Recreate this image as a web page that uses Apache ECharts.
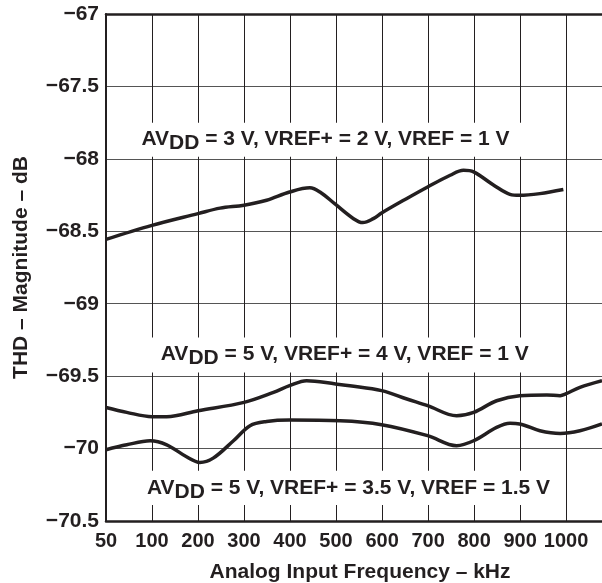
<!DOCTYPE html>
<html><head><meta charset="utf-8">
<script src="https://cdn.jsdelivr.net/npm/echarts@6/dist/echarts.min.js"></script>
<style>html,body{margin:0;padding:0;background:#fff}#c{width:602px;height:583px}</style>
</head><body><div id="c"></div>
<script>
// ---- data ----
const tickLabels = ['50','100','200','300','400','500','600','700','800','900','1000'];

const avdd3Freq = [50, 100, 200, 248, 300, 349, 399, 443, 465, 499, 538, 558, 581, 599, 653, 699, 748, 777, 799, 842, 878, 899, 943, 994];
const avdd3Thd  = [-68.556, -68.459, -68.378, -68.34, -68.32, -68.286, -68.229, -68.20, -68.229, -68.315, -68.413, -68.44, -68.413, -68.374, -68.275, -68.194, -68.113, -68.079, -68.09, -68.18, -68.245, -68.252, -68.24, -68.212];

const avdd5v4Freq = [50, 72.5, 100, 132, 200, 300, 364, 399, 436, 499, 530, 599, 654, 699, 762, 799, 849, 899, 958, 987, 999, 1030, 1078];
const avdd5v4Thd  = [-69.716, -69.75, -69.78, -69.78, -69.739, -69.681, -69.612, -69.566, -69.531, -69.554, -69.566, -69.60, -69.658, -69.704, -69.773, -69.75, -69.67, -69.635, -69.63, -69.635, -69.623, -69.577, -69.531];

const avdd5v35Freq = [50, 72.5, 98, 132, 175, 204, 233, 277, 313, 349, 399, 509, 599, 699, 762, 799, 849, 878, 899, 943, 987, 1030, 1078];
const avdd5v35Thd  = [-70.008, -69.974, -69.946, -69.974, -70.057, -70.096, -70.066, -69.946, -69.842, -69.813, -69.803, -69.808, -69.835, -69.911, -69.98, -69.946, -69.854, -69.826, -69.83, -69.877, -69.896, -69.877, -69.83];

const annoText = [
  ['AV', 'DD', ' = 3 V, VREF+ = 2 V, VREF = 1 V'],
  ['AV', 'DD', ' = 5 V, VREF+ = 4 V, VREF = 1 V'],
  ['AV', 'DD', ' = 5 V, VREF+ = 3.5 V, VREF = 1.5 V']
];

// ---- layout (not data) ----
const annoAnchor = [[477, -67.867], [519, -69.354], [527, -70.276]]; // text centre (kHz, dB of text middle)
const bands = [[-67.75, -67.985], [-69.234, -69.474], [-70.153, -70.389]];
const X_MAX = 10.78;

const FONT = '"Liberation Sans", Arial, Helvetica, sans-serif';
const INK = '#231f20';
function pos(f) { return f < 100 ? (f - 50) / 50 : f / 100; }
function pairs(fs, vs) { return fs.map((f, i) => [pos(f), vs[i]]); }

const chart = echarts.init(document.getElementById('c'), null, {renderer: 'canvas'});
const lbl = {color: INK, fontFamily: FONT, fontSize: 20, fontWeight: 'bold'};
const lineSeries = (data) => ({
  type: 'line', data: data, smooth: 0.35, symbol: 'none', xAxisIndex: 0, yAxisIndex: 0,
  lineStyle: {color: INK, width: 3.5}, z: 3
});

const s0 = lineSeries(pairs(avdd3Freq, avdd3Thd));
s0.markArea = {
  silent: true, itemStyle: {color: '#ffffff', opacity: 1, borderWidth: 0}, label: {show: false},
  data: bands.map(b => [{xAxis: 0.04, yAxis: b[0]}, {xAxis: 9.8, yAxis: b[1]}])
};

chart.setOption({
  animation: false,
  grid: {left: 106, right: 0, top: 14, bottom: 62, containLabel: false, outerBoundsMode: 'none'},
  xAxis: [{
    type: 'value', min: 0, max: X_MAX, interval: 1,
    axisLine: {show: true, onZero: false, lineStyle: {color: INK, width: 2.5}},
    axisTick: {show: false},
    splitLine: {show: true, lineStyle: {color: INK, width: 1}},
    axisLabel: Object.assign({formatter: v => Number.isInteger(v) ? tickLabels[v] : '', margin: 10, showMaxLabel: false}, lbl),
    name: 'Analog Input Frequency – kHz', nameLocation: 'middle', nameGap: 41,
    nameTextStyle: {color: INK, fontFamily: FONT, fontSize: 21, fontWeight: 'bold', padding: [0, 0, 0, 12]}
  }, {
    type: 'value', position: 'top', min: 0, max: X_MAX, gridIndex: 0,
    axisLine: {show: true, onZero: false, lineStyle: {color: INK, width: 2.5}},
    axisTick: {show: false}, axisLabel: {show: false}, splitLine: {show: false}
  }],
  yAxis: {
    type: 'value', min: -70.5, max: -67, interval: 0.5,
    axisLine: {show: true, onZero: false, lineStyle: {color: INK, width: 2}},
    axisTick: {show: false},
    splitLine: {show: true, lineStyle: {color: '#555', width: 1.2}},
    axisLabel: Object.assign({}, lbl, {fontSize: 21, formatter: v => String(v).replace('-', '\u2212'), margin: 7}),
    name: 'THD – Magnitude – dB', nameLocation: 'middle', nameGap: 74, nameRotate: 90,
    nameTextStyle: {color: INK, fontFamily: FONT, fontSize: 21, fontWeight: 'bold'}
  },
  series: [s0, lineSeries(pairs(avdd5v4Freq, avdd5v4Thd)), lineSeries(pairs(avdd5v35Freq, avdd5v35Thd))]
});

const tok = {fill: INK, fontFamily: FONT, fontSize: 21, fontWeight: 'bold', lineHeight: 22, verticalAlign: 'top'};
const graphics = annoText.map((t, i) => {
  const p = chart.convertToPixel({xAxisIndex: 0, yAxisIndex: 0}, [pos(annoAnchor[i][0]), annoAnchor[i][1]]);
  return {
    type: 'text', x: p[0], y: p[1] - 11, z: 10,
    style: {
      text: '{n|' + t[0] + '}{s|' + t[1] + '}{n|' + t[2] + '}',
      align: 'center', verticalAlign: 'top',
      rich: {n: Object.assign({}, tok), s: Object.assign({padding: [4, 0, 0, 0]}, tok)}
    }
  };
});
chart.setOption({graphic: graphics});
</script>
</body></html>
